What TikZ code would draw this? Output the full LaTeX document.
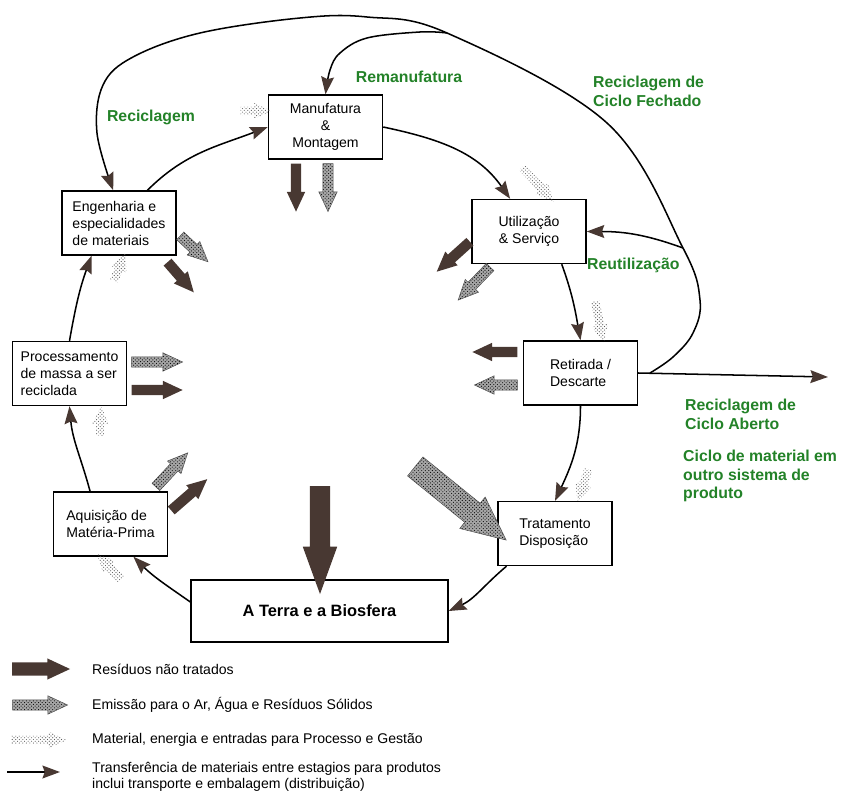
\documentclass[tikz,border=0pt]{standalone}
\usepackage{fontspec}
\setmainfont{Liberation Sans}
\usetikzlibrary{shapes.arrows,patterns,arrows.meta}
\definecolor{dkbrown}{RGB}{72,56,50}
\definecolor{labelgreen}{RGB}{35,130,40}

\begin{document}
\begin{tikzpicture}
    [x=0.03cm,y=0.03cm,
    stage/.style={draw,line width=1.2pt,minimum width=3.42cm,minimum height=1.92cm,
        inner sep=2pt,font=\fontsize{12}{14.5}\selectfont},
    cyclelabel/.style={text=labelgreen,inner sep=0pt,align=left,
        font=\bfseries\fontsize{13.5}{16}\selectfont},
    legendtext/.style={anchor=west,inner sep=0pt,align=left,
        font=\fontsize{12}{13.5}\selectfont},
    flow/.style={line width=1.3pt,
        -{Stealth[length=15pt,width=11pt,inset=2pt,color=dkbrown]}},
    blockarrow/.style={single arrow,inner xsep=0pt,inner ysep=0.15cm,
        single arrow head extend=0.12cm,single arrow tip angle=50},
    wastearrow/.style={blockarrow,fill=dkbrown},
    emitarrow/.style={blockarrow,draw=black!70,line width=0.4pt,
        preaction={fill=gray!70},pattern=crosshatch dots,pattern color=black},
    inputarrow/.style={blockarrow,inner ysep=0.12cm,
        pattern=crosshatch dots,pattern color=black!65}]
\useasboundingbox (0,0) rectangle (845,-794);

\path
    (325.5,-127) node [stage,align=center] (manuf) {Manufatura\\\&\\Montagem}
    (119,-223) node [stage,align=left] (eng) {Engenharia e\\especialidades\\de materiais}
    (529,-231.5) node [stage,align=center] (use) {Utilização\\\& Serviço}
    (69.5,-373.5) node [stage,align=left] (proc) {Processamento\\de massa a ser\\reciclada}
    (580.5,-373) node [stage,align=left] (retire) {Retirada /\\Descarte}
    (110.5,-524) node [stage,align=left] (acq) {Aquisição de\\Matéria-Prima}
    (555,-533.5) node [stage,align=left] (treat) {Tratamento\\Disposição}
    (319.5,-611) node [stage,minimum width=7.71cm,minimum height=1.86cm,
        font=\bfseries\fontsize{14}{16}\selectfont] (earth) {A Terra e a Biosfera};

\path
    (151,-117) node [cyclelabel] (recyc) {Reciclagem}
    (409,-77) node [cyclelabel] (reman-label) {Remanufatura}
    (593,-91) node [cyclelabel,anchor=west] (closed) {Reciclagem de\\Ciclo Fechado}
    (587,-265) node [cyclelabel,anchor=west] (reuse-label) {Reutilização}
    (685,-414) node [cyclelabel,anchor=west] (open) {Reciclagem de\\Ciclo Aberto}
    (683,-476) node [cyclelabel,anchor=west] (other)
        {Ciclo de material em\\outro sistema de\\produto};

\draw [flow] (eng.49) to [out=45,in=201] (manuf.west);
\draw [flow] (manuf.east) to [out=-12,in=125] (use.120);
\draw [flow] (use.-45) to [out=-70,in=100] (retire.north);
\draw [flow] (retire.south) to [out=-90,in=65] (treat.north);
\draw [flow] (treat.-146) to [out=-140,in=25] (earth.east);
\draw [flow] (earth.176) to [out=145,in=-45] (acq.-55);
\draw [flow] (acq.122) to [out=105,in=-85] (proc.south);
\draw [flow] (proc.north) to [out=80,in=-110] (eng.-130);

\coordinate (junc) at (650,-373);
\coordinate (openend) at (828,-377);
\coordinate (reuse) at (683,-248);
\coordinate (reman) at (447,-33);
\draw [flow] (retire.east) -- (openend);
\draw [flow] plot [smooth,tension=0.6] coordinates {(junc) (673,-357) (693,-333)
    (700,-300) (reuse) (607,-123) (reman) (367,-17) (300,-18) (200,-33) (133,-57)
    (103,-85) (97,-133) (eng.100)};
\draw [flow] plot [smooth,tension=0.6] coordinates {(reman) (420,-32) (367,-38)
    (340,-53) (330,-70) (manuf.north)};
\draw [flow] (reuse) to [out=160,in=0] (use.east);

\path
    (296,-182) node [wastearrow,minimum height=1.44cm,rotate=-90] (manuf-waste) {}
    (328,-182) node [emitarrow,minimum height=1.44cm,rotate=-90] (manuf-emit) {}
    (251.5,-111) node [inputarrow,minimum height=0.93cm] (manuf-input) {}
    (190,-245) node [emitarrow,minimum height=1.14cm,rotate=-43] (eng-emit) {}
    (177,-273) node [wastearrow,minimum height=1.2cm,rotate=-49] (eng-waste) {}
    (118,-271) node [inputarrow,minimum height=0.9cm,rotate=67] (eng-input) {}
    (457.5,-253) node [wastearrow,minimum height=1.34cm,rotate=-138] (use-waste) {}
    (478,-279.5) node [emitarrow,minimum height=1.38cm,rotate=-134] (use-emit) {}
    (535,-181) node [inputarrow,minimum height=1.4cm,rotate=-47] (use-input) {}
    (500.5,-352) node [wastearrow,minimum height=1.35cm,rotate=180] (retire-waste) {}
    (501.5,-385) node [emitarrow,minimum height=1.29cm,rotate=180] (retire-emit) {}
    (598.5,-317.5) node [inputarrow,minimum height=1.26cm,rotate=-78] (retire-input) {}
    (450.5,-495) node [emitarrow,minimum height=3.51cm,inner ysep=0.36cm,
        single arrow head extend=0.24cm,rotate=-39] (treat-emit) {}
    (584.5,-481) node [inputarrow,minimum height=1.02cm,rotate=-109] (treat-input) {}
    (151.5,-362) node [emitarrow,minimum height=1.53cm] (proc-emit) {}
    (151.5,-390) node [wastearrow,minimum height=1.53cm] (proc-waste) {}
    (100.5,-425.5) node [inputarrow,minimum height=0.87cm,rotate=88] (proc-input) {}
    (168,-474) node [emitarrow,minimum height=1.4cm,rotate=47] (acq-emit) {}
    (185,-498.5) node [wastearrow,minimum height=1.43cm,rotate=41] (acq-waste) {}
    (112,-570) node [inputarrow,minimum height=1.05cm,rotate=133] (acq-input) {}
    (320,-526) node [wastearrow,minimum height=3.24cm,inner ysep=0.3cm,
        single arrow head extend=0.21cm,single arrow tip angle=40,rotate=-90] (earth-waste) {};

\path
    (34,-669) node [wastearrow,minimum height=1.74cm,inner ysep=0.19cm] (key-waste) {}
    (34.5,-705) node [emitarrow,minimum height=1.65cm] (key-emit) {}
    (34.5,-740) node [inputarrow,minimum height=1.65cm] (key-input) {}
    (92,-669) node [legendtext] (txt-waste) {Resíduos não tratados}
    (92,-705) node [legendtext] (txt-emit) {Emissão para o Ar, Água e Resíduos Sólidos}
    (92,-740) node [legendtext] (txt-input) {Material, energia e entradas para Processo e Gestão}
    (92,-777) node [legendtext] (txt-flow)
        {Transferência de materiais entre estagios para produtos\\inclui transporte e embalagem (distribuição)};
\coordinate (key-start) at (7,-772);
\coordinate (key-end) at (60,-772);
\draw [flow] (key-start) -- (key-end);
\end{tikzpicture}
\end{document}
